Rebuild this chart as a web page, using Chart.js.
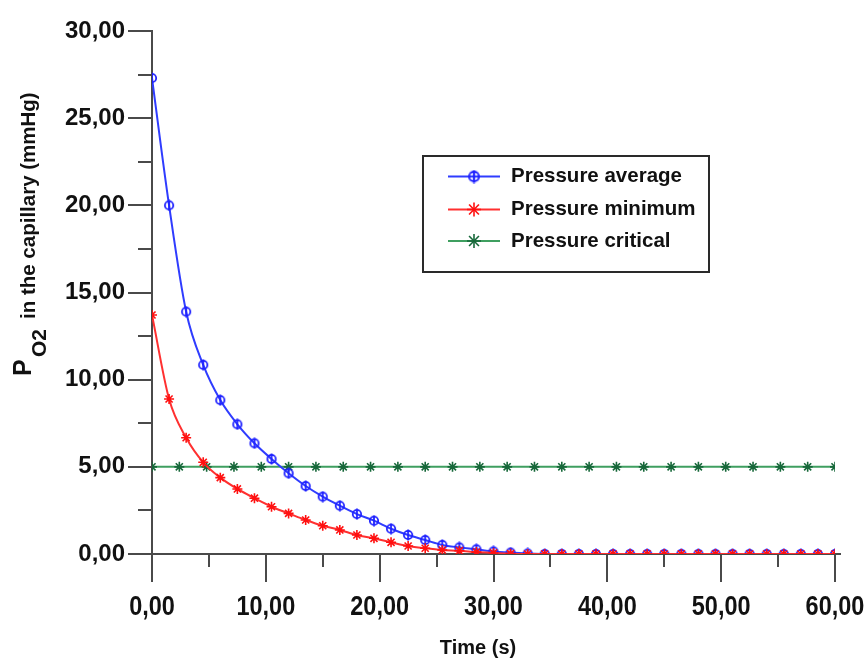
<!DOCTYPE html>
<html><head><meta charset="utf-8">
<script src="https://cdn.jsdelivr.net/npm/chart.js@4.4.1/dist/chart.umd.min.js"></script>
<style>html,body{margin:0;padding:0;background:#fff;} #c{display:block;}</style>
</head><body>
<canvas id="c" width="867" height="658"></canvas>
<script>
// ---- data ----
const timeFine = [0,1.5,3,4.5,6,7.5,9,10.5,12,13.5,15,16.5,18,19.5,21,22.5,24,25.5,27,28.5,30,31.5,33,34.5,36,37.5,39,40.5,42,43.5,45,46.5,48,49.5,51,52.5,54,55.5,57,58.5,60];
const timeCritical = [0,2.4,4.8,7.2,9.6,12,14.4,16.8,19.2,21.6,24,26.4,28.8,31.2,33.6,36,38.4,40.8,43.2,45.6,48,50.4,52.8,55.2,57.6,60];
const pressureAverage = [27.3,20.0,13.9,10.85,8.83,7.44,6.35,5.45,4.63,3.9,3.29,2.77,2.29,1.91,1.45,1.09,0.8,0.52,0.38,0.27,0.15,0.08,0.03,0,0,0,0,0,0,0,0,0,0,0,0,0,0,0,0,0,0];
const pressureMinimum = [13.71,8.89,6.67,5.26,4.38,3.73,3.2,2.71,2.33,1.95,1.62,1.38,1.09,0.9,0.67,0.46,0.33,0.23,0.19,0.11,0.06,0.02,0,0,0,0,0,0,0,0,0,0,0,0,0,0,0,0,0,0,0];
const pressureCritical = [5,5,5,5,5,5,5,5,5,5,5,5,5,5,5,5,5,5,5,5,5,5,5,5,5,5];
const seriesLabels = ['Pressure average','Pressure minimum','Pressure critical'];
const xMinorTicks = [5,15,25,35,45,55];
const yMinorTicks = [2.5,7.5,12.5,17.5,22.5,27.5];
const xTitle = 'Time (s)';
const yTitleMain = 'P', yTitleSub = 'O2', yTitleRest = 'in the capillary (mmHg)';

// ---- styles ----
const BLUE = '#2f3cff', BLUE_MK = '#1f22ff';
const RED = '#ff3030', RED_MK = '#ff1010';
const GREEN = '#3f9f60', GREEN_MK = '#17683a';
const AXIS = '#4a4a4a';

function makeAvgMarker(color){
  const c = document.createElement('canvas'); c.width = 12; c.height = 12;
  const g = c.getContext('2d'); g.strokeStyle = color; g.lineWidth = 1.8;
  g.beginPath(); g.arc(6,6,4.2,0,Math.PI*2); g.stroke();
  g.beginPath(); g.moveTo(6,0.5); g.lineTo(6,11.5); g.stroke();
  return c;
}
const avgMarker = makeAvgMarker(BLUE_MK);

const fmt = v => Number(v).toFixed(2).replace('.', ',');
const pts = (xs, ys) => xs.map((x,i)=>({x, y: ys[i]}));

function line(ctx,x1,y1,x2,y2){ctx.beginPath();ctx.moveTo(x1,y1);ctx.lineTo(x2,y2);ctx.stroke();}

const extras = {
  id: 'extras',
  afterDraw(chart){
    const {ctx, scales:{x, y}} = chart;
    ctx.save();
    ctx.strokeStyle = AXIS; ctx.lineWidth = 2;
    const x0 = Math.round(x.getPixelForValue(0));
    const yb = Math.round(y.getPixelForValue(0));
    xMinorTicks.forEach(v => { const px = Math.round(x.getPixelForValue(v)); line(ctx, px, yb, px, yb+13); });
    yMinorTicks.forEach(v => { const py = Math.round(y.getPixelForValue(v)); line(ctx, x0-14, py, x0, py); });
    line(ctx, x0, yb, x0, yb+28);
    line(ctx, x.right, yb, x.right+6, yb);

    // x tick labels (condensed bold, like the reference)
    ctx.fillStyle = '#111';
    ctx.font = 'bold 27px "Liberation Sans", Arial, sans-serif';
    ctx.textAlign = 'center'; ctx.textBaseline = 'middle';
    x.ticks.forEach(t => {
      const px = x.getPixelForValue(t.value);
      ctx.save(); ctx.translate(px, 608); ctx.scale(0.87, 1);
      ctx.fillText(fmt(t.value), 0, 0);
      ctx.restore();
    });

    // x title
    ctx.font = 'bold 20px "Liberation Sans", Arial, sans-serif';
    ctx.fillText(xTitle, 478, 648);

    // y title (rotated)
    ctx.save();
    ctx.rotate(-Math.PI/2);
    ctx.textAlign = 'left'; ctx.textBaseline = 'alphabetic';
    ctx.font = 'bold 25px "Liberation Sans", Arial, sans-serif';
    ctx.fillText(yTitleMain, -376, 31);
    ctx.font = 'bold 21px "Liberation Sans", Arial, sans-serif';
    ctx.fillText(yTitleSub, -357, 46);
    ctx.font = 'bold 20.5px "Liberation Sans", Arial, sans-serif';
    ctx.fillText(yTitleRest, -319, 35);
    ctx.restore();

    // legend
    const bx = 423, by = 156, bw = 286, bh = 116;
    ctx.fillStyle = '#fff'; ctx.fillRect(bx, by, bw, bh);
    ctx.strokeStyle = '#2a2a2a'; ctx.lineWidth = 2; ctx.strokeRect(bx, by, bw, bh);
    const rows = [176.5, 209.5, 241];
    ctx.font = 'bold 20.5px "Liberation Sans", Arial, sans-serif';
    chart.data.datasets.forEach((ds, i) => {
      const ry = rows[i];
      ctx.strokeStyle = ds.borderColor; ctx.lineWidth = 2;
      line(ctx, 448, ry, 500, ry);
      const mx = 474;
      if (ds.pointStyle === 'star') {
        ctx.strokeStyle = ds.pointBorderColor; ctx.lineWidth = 1.6;
        const r = 7, d = r*Math.SQRT1_2;
        line(ctx, mx-r, ry, mx+r, ry); line(ctx, mx, ry-r, mx, ry+r);
        line(ctx, mx-d, ry-d, mx+d, ry+d); line(ctx, mx-d, ry+d, mx+d, ry-d);
      } else {
        ctx.drawImage(ds.pointStyle, mx-7, ry-7, 14, 14);
      }
      ctx.fillStyle = '#111';
      ctx.textAlign = 'left'; ctx.textBaseline = 'middle';
      ctx.fillText(ds.label, 511, ry);
    });
    ctx.restore();
  }
};

new Chart(document.getElementById('c'), {
  type: 'line',
  data: {
    datasets: [
      { label: seriesLabels[0], data: pts(timeFine, pressureAverage), borderColor: BLUE, borderWidth: 2,
        pointStyle: avgMarker, pointRadius: 6, pointBorderColor: BLUE_MK, cubicInterpolationMode: 'monotone', order: 2 },
      { label: seriesLabels[1], data: pts(timeFine, pressureMinimum), borderColor: RED, borderWidth: 2,
        pointStyle: 'star', pointRadius: 5, pointBorderWidth: 1.6, pointBorderColor: RED_MK, pointBackgroundColor: RED_MK,
        cubicInterpolationMode: 'monotone', order: 1 },
      { label: seriesLabels[2], data: pts(timeCritical, pressureCritical), borderColor: GREEN, borderWidth: 2,
        pointStyle: 'star', pointRadius: 5, pointBorderWidth: 1.6, pointBorderColor: GREEN_MK, pointBackgroundColor: GREEN_MK,
        order: 3 }
    ]
  },
  options: {
    responsive: false, animation: false, events: [],
    layout: { padding: { left: 0, top: 31, right: 32, bottom: 0 } },
    plugins: { legend: { display: false }, tooltip: { enabled: false } },
    scales: {
      x: {
        type: 'linear', min: 0, max: 60, position: 'bottom',
        afterFit: s => { s.height = 104; },
        border: { display: true, color: AXIS, width: 2 },
        grid: { display: true, drawOnChartArea: false, drawTicks: true, tickLength: 28, color: AXIS, lineWidth: 2 },
        ticks: { display: false, stepSize: 10, autoSkip: false, maxRotation: 0 }
      },
      y: {
        min: 0, max: 30,
        afterFit: s => { s.width = 152; },
        border: { display: true, color: AXIS, width: 2 },
        grid: { display: true, drawOnChartArea: false, drawTicks: true, tickLength: 24, color: AXIS, lineWidth: 2 },
        ticks: { stepSize: 5, padding: 3, color: '#111',
          font: { family: '"Liberation Sans", Arial, sans-serif', weight: 'bold', size: 24, lineHeight: 1 },
          callback: v => fmt(v) }
      }
    }
  },
  plugins: [extras]
});
</script>
</body></html>
